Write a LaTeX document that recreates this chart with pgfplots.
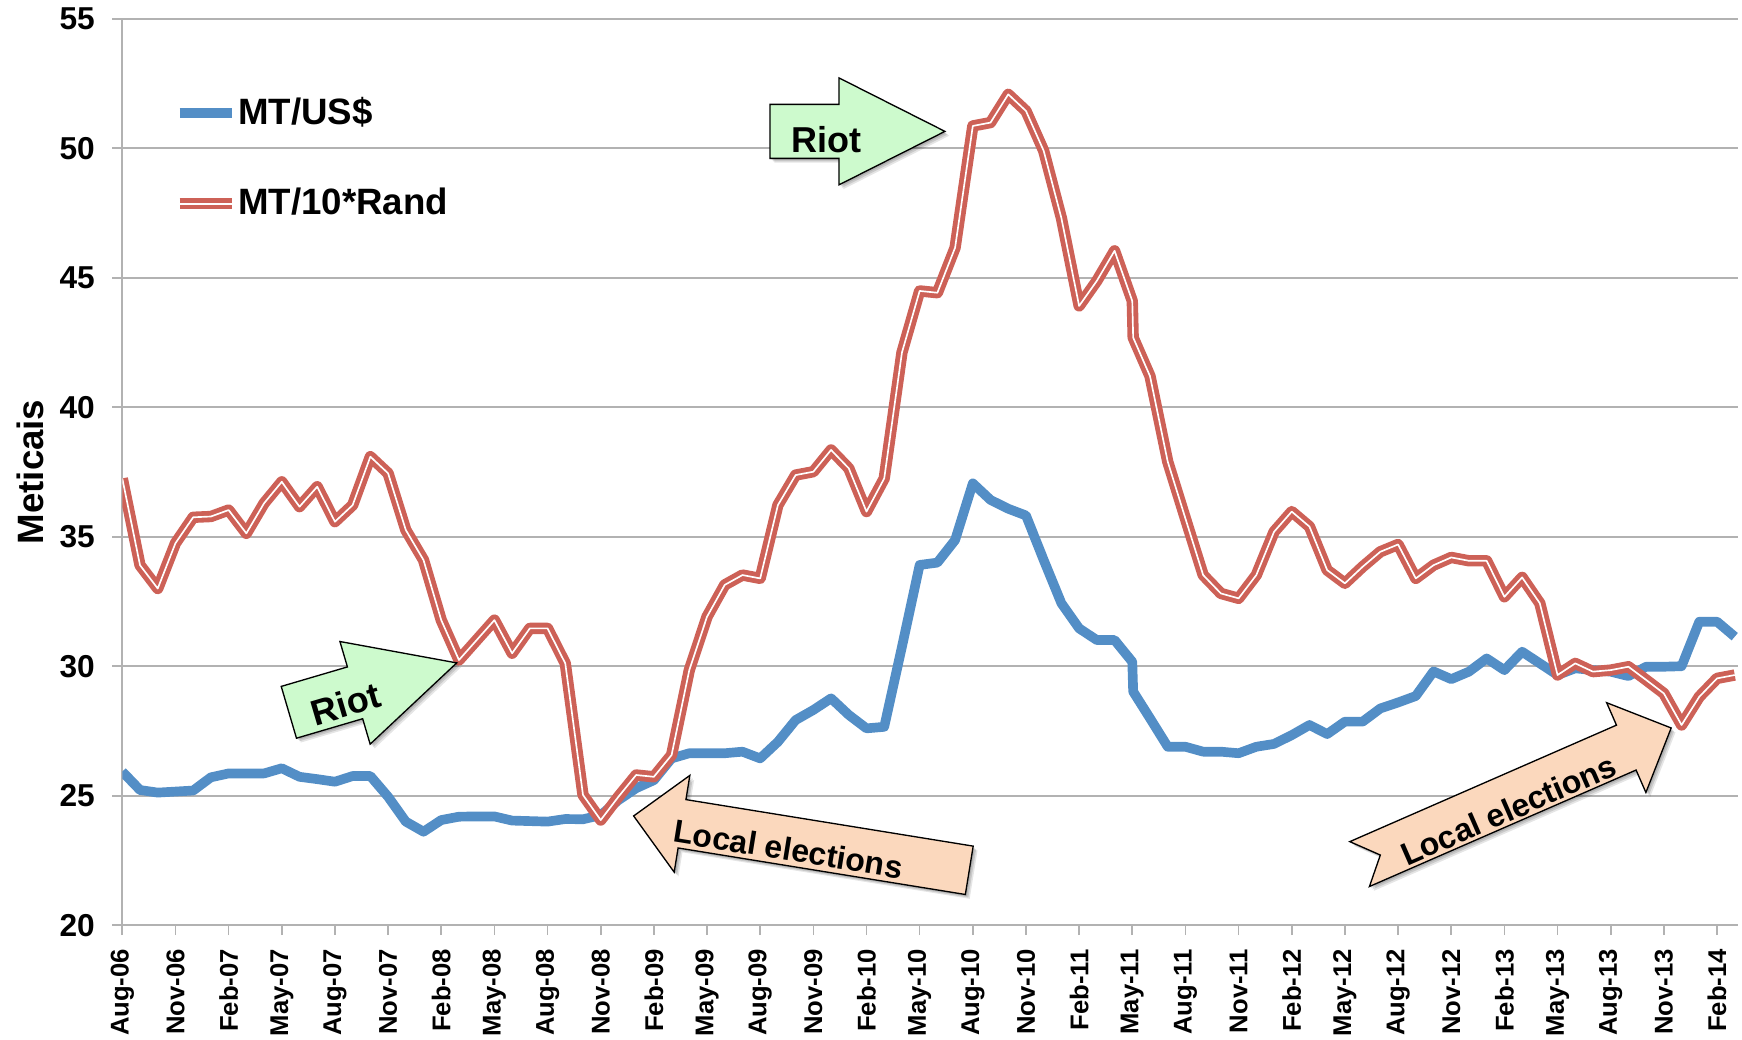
\documentclass[border=0pt]{standalone}
\usepackage{fontspec}
\setmainfont{Liberation Sans}
\usepackage{pgfplots}
\pgfplotsset{compat=1.18}

\definecolor{usd}{RGB}{83,142,198}
\definecolor{rand}{RGB}{205,97,87}
\definecolor{gridgray}{RGB}{178,178,178}
\definecolor{riotgreen}{RGB}{205,250,205}
\definecolor{electpeach}{RGB}{251,216,189}

\newcommand{\ytfont}{\fontsize{9.5}{10}\selectfont\bfseries}
\newcommand{\xtfont}{\fontsize{7.7}{8}\selectfont\bfseries}
\newcommand{\lgfont}{\fontsize{11}{12}\selectfont\bfseries}
\newcommand{\riotfont}{\fontsize{10.8}{12}\selectfont\bfseries}
\newcommand{\elfont}{\fontsize{9.6}{11}\selectfont\bfseries}

% block arrow with soft shadow: #1 anchor, #2 angle, #3 fill, #4 outline
\newcommand{\blockarrow}[4]{%
  \begin{scope}[shift={(#1)}, x=0.3pt, y=0.3pt]
    \foreach \s/\op in {0.5/0.12, 0.9/0.12, 1.3/0.10}{%
      \fill[black, opacity=\op, xshift=\s pt, yshift=-\s pt, rotate=#2] #4;}
    \filldraw[fill=#3, draw=black, line width=0.4pt, line join=miter, rotate=#2] #4;
  \end{scope}}

\begin{document}
\begin{tikzpicture}
\begin{axis}[
  scale only axis, width=484.8pt, height=271.95pt,
  xmin=0, xmax=91.2, ymin=20, ymax=55,
  axis x line=bottom, axis y line=left,
  axis line style={gridgray, line width=0.6pt, -},
  xtick={0,3,...,90},
  xticklabels={Aug-06,Nov-06,Feb-07,May-07,Aug-07,Nov-07,Feb-08,May-08,Aug-08,Nov-08,
    Feb-09,May-09,Aug-09,Nov-09,Feb-10,May-10,Aug-10,Nov-10,Feb-11,May-11,Aug-11,Nov-11,
    Feb-12,May-12,Aug-12,Nov-12,Feb-13,May-13,Aug-13,Nov-13,Feb-14},
  ytick={20,25,...,55},
  ymajorgrids, major grid style={gridgray, line width=0.6pt},
  tick align=outside, major tick length=3pt,
  tick style={gridgray, line width=0.5pt},
  xticklabel style={rotate=90, anchor=east, font=\xtfont, xshift=-0.6pt},
  yticklabel style={font=\ytfont, xshift=-1.7pt},
  /pgf/number format/assume math mode=true,
  ylabel={Meticais},
  ylabel style={font=\lgfont, at={(rel axis cs:0,0.5)}, anchor=center, yshift=27.7pt},
  legend style={at={(rel axis cs:0.032,0.846)}, anchor=west, draw=none, fill=none,
    inner sep=0pt, outer sep=0pt, font=\lgfont, row sep=17pt, nodes={inner sep=0.3pt}},
  legend cell align=left,
  legend image code/.code={\draw[#1] (0pt,0pt) -- (15.6pt,0pt);},
]
\addplot[usd, line width=2.9pt, line join=round] coordinates {
 (0,25.93) (1,25.22) (2,25.12) (3,25.16) (4,25.2) (5,25.71) (6,25.86) (7,25.86)
 (8,25.86) (9,26.06) (10,25.73) (11,25.64) (12,25.54) (13,25.76) (14,25.76) (15,24.96)
 (16,24.0) (17,23.61) (18,24.06) (19,24.19) (20,24.2) (21,24.2) (22,24.04) (23,24.02)
 (24,24.0) (25,24.1) (26,24.09) (27,24.25) (28,24.83) (29,25.29) (30,25.6) (31,26.44)
 (32,26.64) (33,26.64) (34,26.64) (35,26.7) (36,26.44) (37,27.08) (38,27.92) (39,28.31)
 (40,28.76) (41,28.12) (42,27.6) (43,27.66) (44,30.75) (45,33.91) (46,34.0) (47,34.87)
 (48,37.06) (49,36.42) (50,36.08) (51,35.82) (52,34.1) (53,32.43) (54,31.46) (55,31.01)
 (56,31.01) (57,30.17) (57.05,29.02) (58,27.99) (59,26.89) (60,26.89) (61,26.7) (62,26.7)
 (63,26.64) (64,26.89) (65,27.0) (66,27.34) (67,27.73) (68,27.38) (69,27.86) (70,27.86)
 (71,28.37) (72,28.6) (73,28.85) (74,29.8) (75,29.5) (76,29.79) (77,30.3) (78,29.85)
 (79,30.56) (80,30.11) (81,29.66) (82,29.92) (83,29.85) (84,29.79) (85,29.62) (86,29.98)
 (87,29.98) (88,30.0) (89,31.72) (90,31.72) (91,31.14)
};
\addplot[rand, line width=1.45pt, double=white, double distance=0.5pt, line join=round] coordinates {
 (0,37.25) (1,33.9) (2,33.0) (3,34.75) (4,35.75) (5,35.78) (6,36.03) (7,35.13)
 (8,36.29) (9,37.12) (10,36.16) (11,36.93) (12,35.58) (13,36.22) (14,38.09) (15,37.45)
 (16,35.26) (17,34.1) (18,31.78) (19,30.24) (20,31.01) (21,31.78) (22,30.5) (23,31.46)
 (24,31.46) (25,30.11) (26,25.03) (27,24.06) (28,24.96) (29,25.8) (30,25.73) (31,26.57)
 (32,29.85) (33,31.91) (34,33.14) (35,33.52) (36,33.39) (37,36.22) (38,37.38) (39,37.51)
 (40,38.35) (41,37.64) (42,35.97) (43,37.25) (44,42.11) (45,44.49) (46,44.42) (47,46.16)
 (48,50.86) (49,50.99) (50,52.08) (51,51.44) (52,49.9) (53,47.3) (54,43.91) (55,44.88)
 (56,46.04) (57,44.1) (57.05,42.69) (58,41.2) (59,37.9) (60,35.7) (61,33.52) (62,32.81)
 (63,32.62) (64,33.52) (65,35.19) (66,35.97) (67,35.39) (68,33.71) (69,33.2) (70,33.84)
 (71,34.42) (72,34.7) (73,33.39) (74,33.9) (75,34.2) (76,34.07) (77,34.07) (78,32.68)
 (79,33.43) (80,32.43) (81,29.66) (82,30.11) (83,29.79) (84,29.85) (85,29.98) (86,29.47)
 (87,28.95) (88,27.73) (89,28.82) (90,29.53) (91,29.66)
};
\legend{MT/US\$, MT/10*Rand}
\coordinate (rA) at (axis cs:36.55,50.65);
\coordinate (rB) at (axis cs:9.40,28.22);
\coordinate (eA) at (axis cs:47.80,22.12);
\coordinate (eB) at (axis cs:69.83,22.36);
\end{axis}

% Riot arrows
\blockarrow{rA}{0}{riotgreen}{(0,27) -- (69,27) -- (69,53.5) -- (175,0) -- (69,-53.5) -- (69,-27) -- (0,-27) -- cycle}
\begin{scope}[shift={(rA)}, x=0.3pt, y=0.3pt]
  \node[font=\riotfont, inner sep=0pt] at (57,-8) {Riot};
\end{scope}
\blockarrow{rB}{16.4}{riotgreen}{(0,27) -- (69,27) -- (69,53.5) -- (175,0) -- (69,-53.5) -- (69,-27) -- (0,-27) -- cycle}
\begin{scope}[shift={(rB)}, x=0.3pt, y=0.3pt, rotate=16.4]
  \node[font=\riotfont, inner sep=0pt, rotate=16.4] at (57,-8) {Riot};
\end{scope}

% Local elections arrows
\blockarrow{eA}{170.8}{electpeach}{(0,24.5) -- (291,24.5) -- (291,49) -- (340,0) -- (291,-49) -- (291,-24.5) -- (0,-24.5) -- cycle}
\begin{scope}[shift={(eA)}, x=0.3pt, y=0.3pt, rotate=170.8]
  \node[font=\elfont, inner sep=0pt, rotate=-9.2] at (182,8) {Local elections};
\end{scope}
\blockarrow{eB}{23.6}{electpeach}{(0,24.5) -- (291,24.5) -- (291,49) -- (340,0) -- (291,-49) -- (291,-24.5) -- (0,-24.5) -- (22.6,0) -- cycle}
\begin{scope}[shift={(eB)}, x=0.3pt, y=0.3pt, rotate=23.6]
  \node[font=\elfont, inner sep=0pt, rotate=23.6] at (158,-10) {Local elections};
\end{scope}

\pgfresetboundingbox
\path[use as bounding box, shift={(current axis.south west)}] (-36.69pt,-34.14pt) rectangle ++(522.6pt,311.7pt);
\end{tikzpicture}
\end{document}
